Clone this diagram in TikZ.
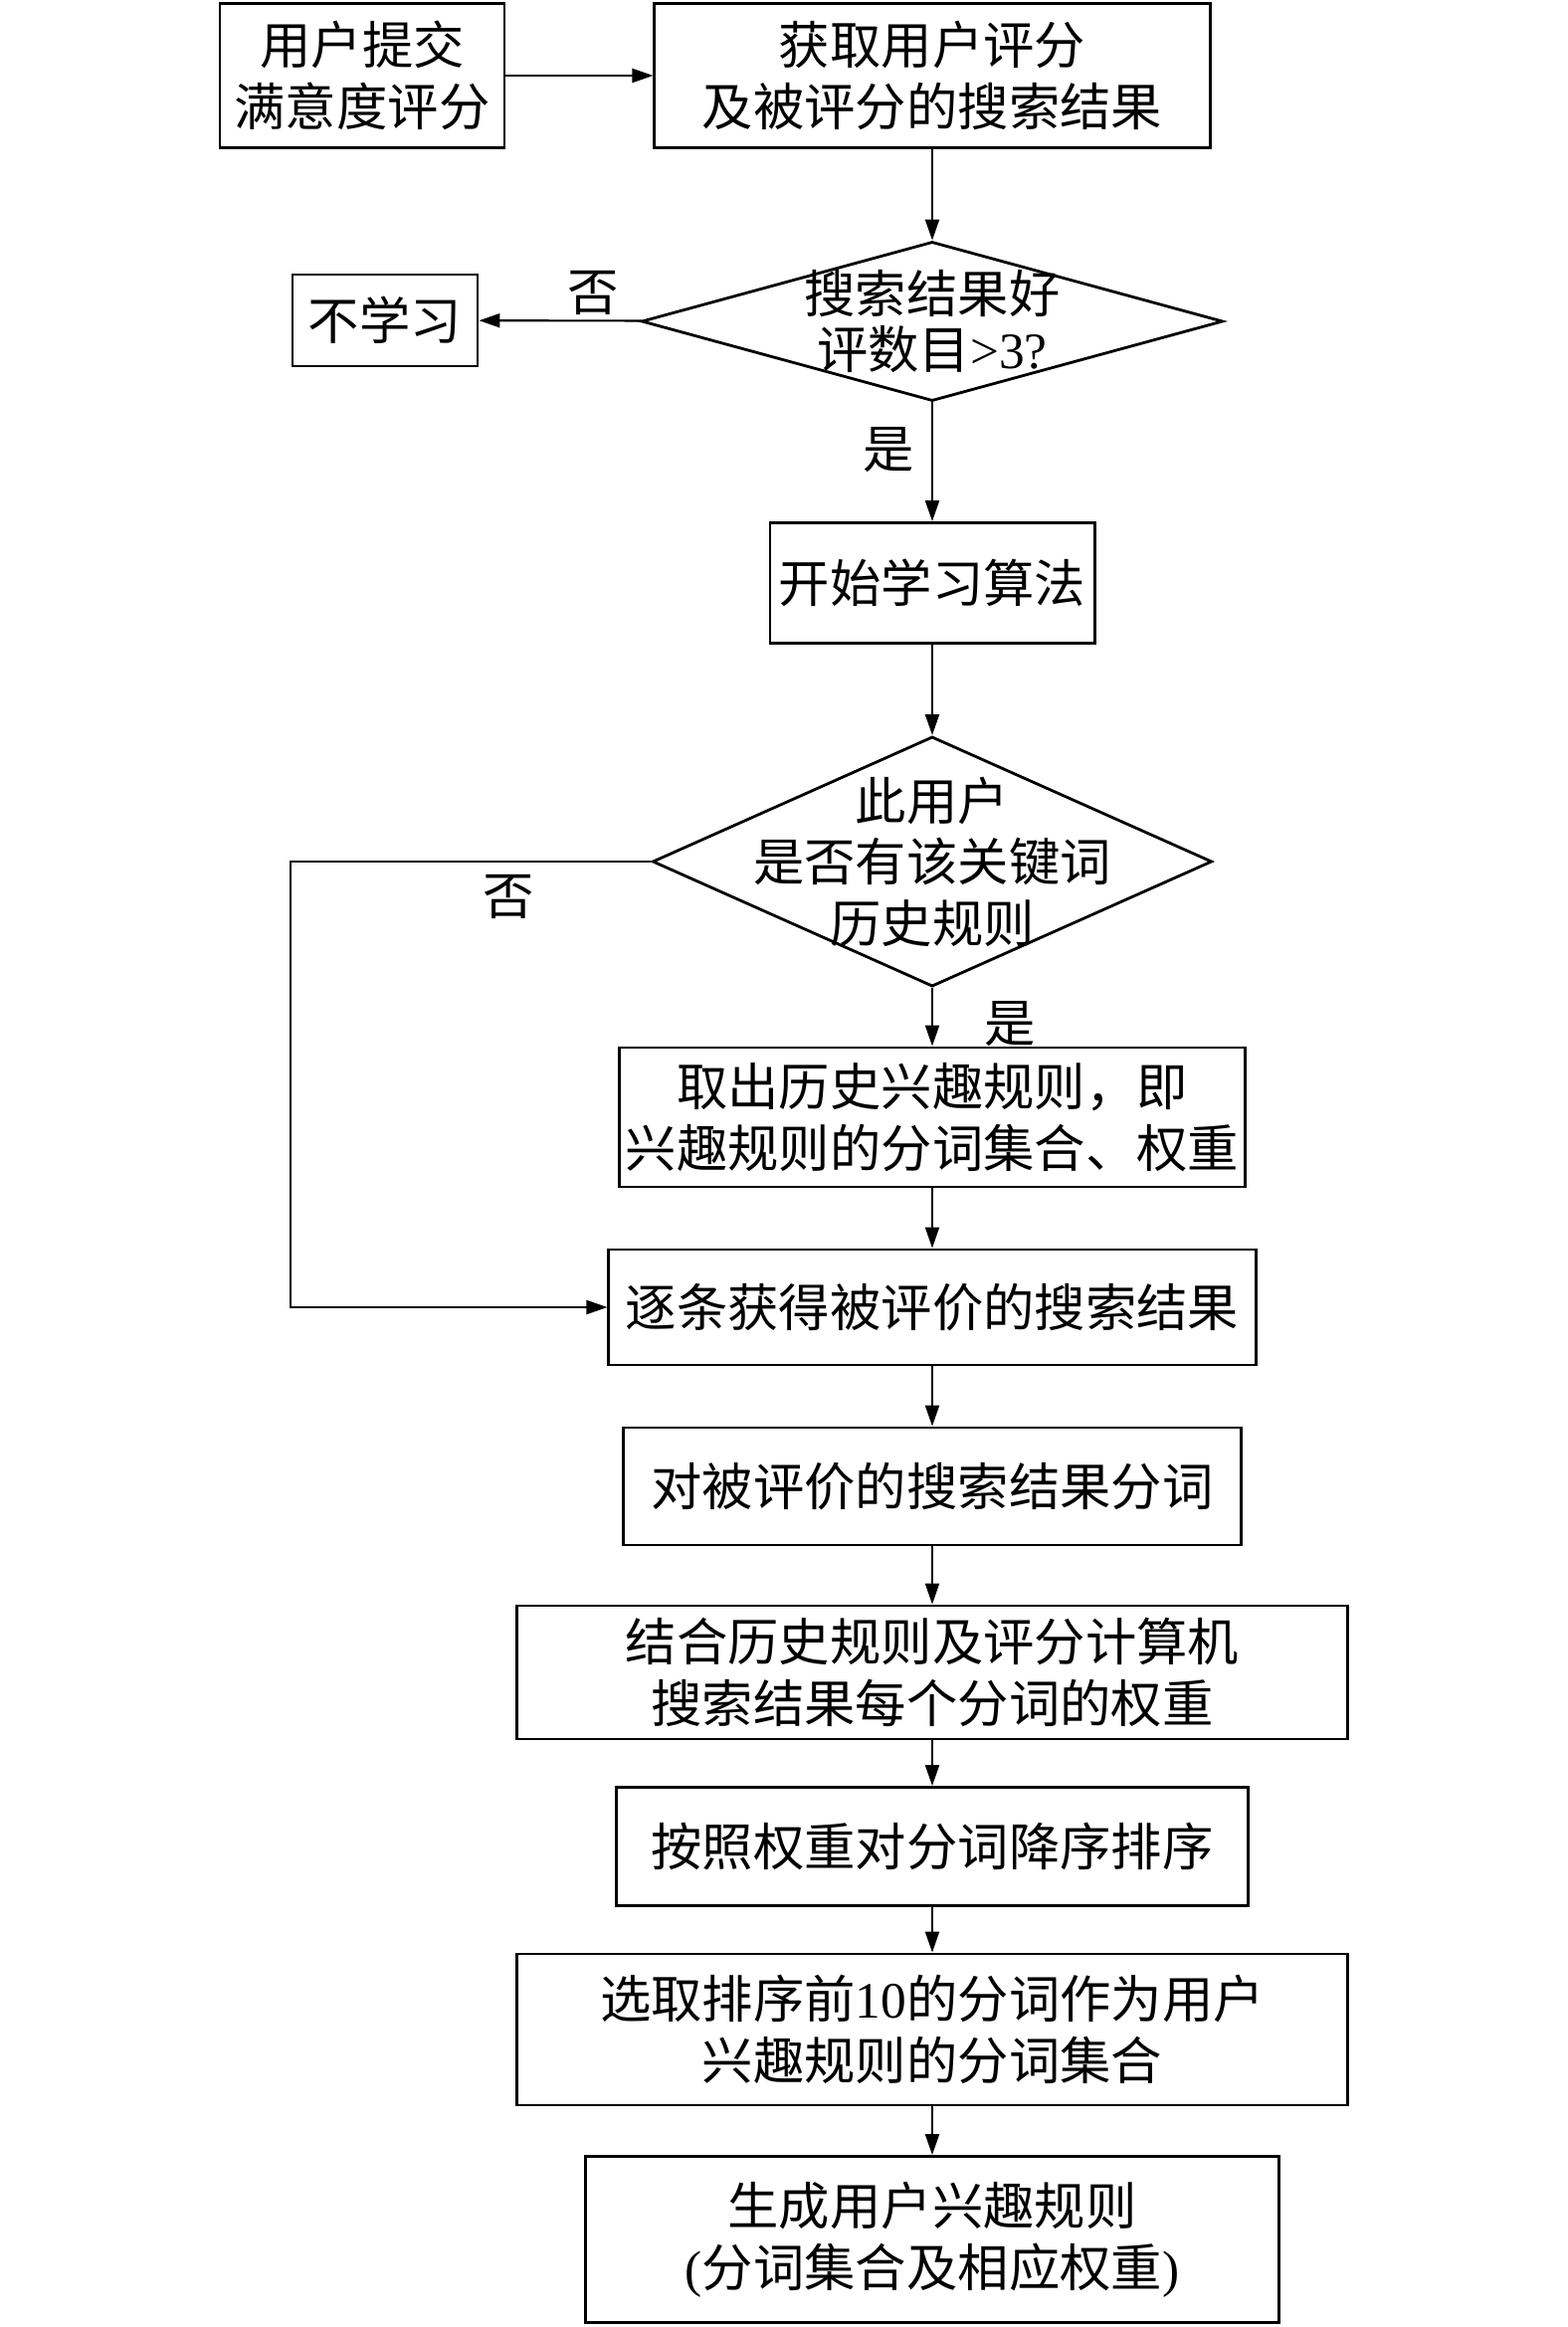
\documentclass[tikz,border=0pt]{standalone}
\usepackage{fontspec}
\setmainfont{Liberation Serif}
\newfontfamily\cjk{Noto Sans CJK SC}
\usetikzlibrary{arrows.meta,shapes.geometric}

\begin{document}
\begin{tikzpicture}[x=0.01cm,y=-0.01cm]
  \tikzstyle{every node}+=[inner sep=0pt,align=center,font=\cjk\fontsize{14.6pt}{17.5pt}\selectfont]
  \tikzstyle{procbox}=[draw,rectangle,line width=0.8pt]
  \tikzstyle{decision}=[draw,diamond,line width=0.8pt]
  \tikzstyle{flow}=[line width=0.6pt,-{Triangle[length=0.21cm,width=0.14cm]}]
  \useasboundingbox (0,0) rectangle (1575,2339);

  % boxes
  \node[procbox,minimum width=2.86cm,minimum height=1.45cm] (submit) at (364,76) {用户提交\\满意度评分};
  \node[procbox,minimum width=5.58cm,minimum height=1.45cm] (getscore) at (937,76) {获取用户评分\\及被评分的搜索结果};
  \node[decision,minimum width=5.84cm,minimum height=1.6cm,
        label={[font=\cjk\fontsize{14.6pt}{16pt}\selectfont]center:{搜索结果好\\评数目{\rmfamily >3?}}}] (enough) at (937,323) {};
  \node[procbox,minimum width=1.86cm,minimum height=0.92cm] (nolearn) at (387,322) {不学习};
  \node[procbox,minimum width=3.26cm,minimum height=1.21cm] (start) at (937,586) {开始学习算法};
  \node[decision,minimum width=5.62cm,minimum height=2.51cm,
        label={center:{此用户\\是否有该关键词\\历史规则}}] (hasrule) at (937,866) {};
  \node[procbox,minimum width=6.28cm,minimum height=1.4cm] (oldrule) at (937,1123) {取出历史兴趣规则，即\\兴趣规则的分词集合、权重};
  \node[procbox,minimum width=6.5cm,minimum height=1.16cm] (each) at (937,1314) {逐条获得被评价的搜索结果};
  \node[procbox,minimum width=6.2cm,minimum height=1.18cm] (segment) at (937,1494) {对被评价的搜索结果分词};
  \node[procbox,minimum width=8.35cm,minimum height=1.34cm] (weight) at (937,1681) {结合历史规则及评分计算机\\搜索结果每个分词的权重};
  \node[procbox,minimum width=6.34cm,minimum height=1.19cm] (sortw) at (937,1856) {按照权重对分词降序排序};
  \node[procbox,minimum width=8.35cm,minimum height=1.52cm] (topten) at (937,2040) {选取排序前{\rmfamily 10}的分词作为用户\\兴趣规则的分词集合};
  \node[procbox,minimum width=6.96cm,minimum height=1.67cm] (result) at (937,2251) {生成用户兴趣规则\\{\rmfamily (}分词集合及相应权重{\rmfamily )}};

  % labels
  \node (no1) at (596,294) {否};
  \node (yes1) at (893,452) {是};
  \node (no2) at (511,901) {否};
  \node (yes2) at (1015,1029) {是};

  % connectors
  \coordinate (loop) at (292,866);
  \draw[flow] (submit) -- (getscore);
  \draw[flow] (getscore) -- (enough);
  \draw[flow] (enough) -- (nolearn);
  \draw[flow] (enough) -- (start);
  \draw[flow] (start) -- (hasrule);
  \draw[flow] (hasrule) -- (oldrule);
  \draw[flow] (oldrule) -- (each);
  \draw[flow] (hasrule.west) -- (loop) |- (each.west);
  \draw[flow] (each) -- (segment);
  \draw[flow] (segment) -- (weight);
  \draw[flow] (weight) -- (sortw);
  \draw[flow] (sortw) -- (topten);
  \draw[flow] (topten) -- (result);
\end{tikzpicture}
\end{document}
